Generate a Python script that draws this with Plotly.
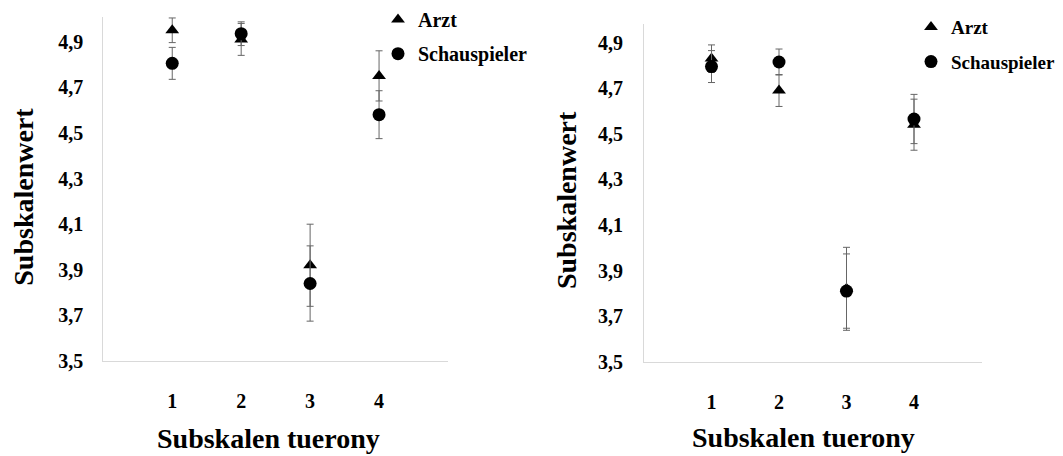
import plotly.graph_objects as go

categories = [1, 2, 3, 4]
tick_vals_y = [3.5, 3.7, 3.9, 4.1, 4.3, 4.5, 4.7, 4.9]

# Left panel
left_arzt = [4.95, 4.91, 3.92, 4.75]
left_arzt_err = [0.054, 0.07, 0.18, 0.11]
left_schau = [4.805, 4.935, 3.84, 4.58]
left_schau_err = [0.07, 0.052, 0.165, 0.105]

# Right panel
right_arzt = [4.83, 4.69, 3.82, 4.54]
right_arzt_err = [0.06, 0.07, 0.182, 0.112]
right_schau = [4.795, 4.815, 3.81, 4.565]
right_schau_err = [0.07, 0.057, 0.163, 0.108]

W, H = 1063, 456
FONT = "Liberation Serif, Times New Roman, serif"
ERR_COLOR = "#666666"
AXIS_COLOR = "#d9d9d9"


def px_x(p):
    return p / W


def px_y(p):
    return 1 - p / H


fig = go.Figure()


def add_series(x, y, err, symbol, size, name, xa, ya, legend):
    fig.add_trace(go.Scatter(
        x=x, y=y, mode="markers", name=name,
        marker=dict(symbol=symbol, size=size, color="black"),
        error_y=dict(type="data", array=err, visible=True, color=ERR_COLOR,
                     thickness=1, width=3.5),
        xaxis=xa, yaxis=ya, legend=legend, showlegend=True,
    ))


add_series(categories, left_arzt, left_arzt_err, "triangle-up", 12, "Arzt", "x", "y", "legend")
add_series(categories, left_schau, left_schau_err, "circle", 13, "Schauspieler", "x", "y", "legend2")
add_series(categories, right_arzt, right_arzt_err, "triangle-up", 12, "Arzt", "x2", "y2", "legend3")
add_series(categories, right_schau, right_schau_err, "circle", 13, "Schauspieler", "x2", "y2", "legend4")


def tickfont():
    return dict(family=FONT, size=20, color="black", weight="bold")


def xcommon():
    return dict(range=[0, 5], tickvals=categories, showgrid=False, zeroline=False,
                showline=True, linecolor=AXIS_COLOR, linewidth=1, ticks="",
                tickfont=tickfont(), ticklabelstandoff=22)


def ycommon():
    return dict(tickvals=tick_vals_y, tickformat=".1f", showgrid=False, zeroline=False,
                showline=True, linecolor=AXIS_COLOR, linewidth=1, ticks="",
                tickfont=tickfont())


def legend_at(xp, yp, size):
    return dict(x=px_x(xp), y=px_y(yp), xanchor="left", yanchor="middle",
                font=dict(family=FONT, size=size, color="black", weight="bold"),
                bgcolor="rgba(0,0,0,0)", borderwidth=0)


fig.update_layout(
    width=W, height=H,
    margin=dict(l=0, r=0, t=0, b=0),
    paper_bgcolor="white", plot_bgcolor="white",
    separators=",.",
    font=dict(family=FONT, color="black"),
    xaxis=dict(domain=[px_x(103.3), px_x(448)], anchor="y", **xcommon()),
    yaxis=dict(domain=[px_y(370), px_y(17)], range=[3.5, 5.01], anchor="x",
               ticklabelstandoff=15, **ycommon()),
    xaxis2=dict(domain=[px_x(644), px_x(981.5)], anchor="y2", **xcommon()),
    yaxis2=dict(domain=[px_y(370.7), px_y(25)], range=[3.5, 4.98], anchor="x2",
                ticklabelstandoff=16, **ycommon()),
    legend=legend_at(378, 20, 20),
    legend2=legend_at(378, 55, 20),
    legend3=legend_at(911, 27.7, 19),
    legend4=legend_at(911, 63.3, 19),
)

title_font = dict(family=FONT, size=28, color="black", weight="bold")
annos = [
    dict(text="Subskalen tuerony", x=px_x(268), y=px_y(449), textangle=0),
    dict(text="Subskalen tuerony", x=px_x(803), y=px_y(448), textangle=0),
    dict(text="Subskalenwert", x=px_x(23.6), y=px_y(202), textangle=-90),
    dict(text="Subskalenwert", x=px_x(566), y=px_y(205), textangle=-90),
]
for a in annos:
    fig.add_annotation(xref="paper", yref="paper", showarrow=False,
                       xanchor="center", yanchor="middle", font=title_font, **a)

fig.write_html("out.html")
